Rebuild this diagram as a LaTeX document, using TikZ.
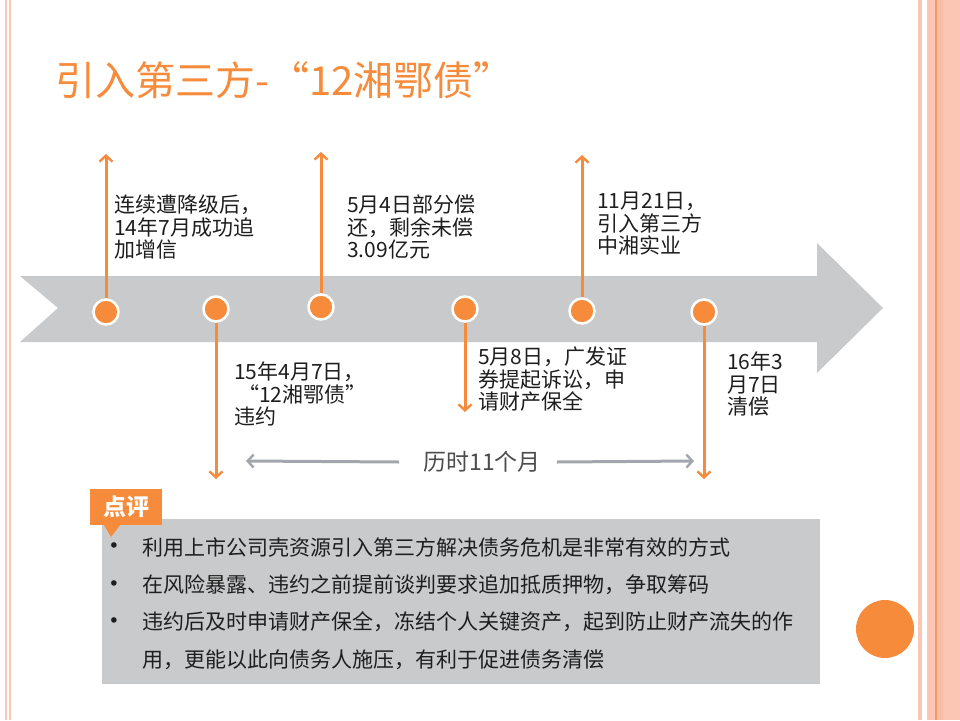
\documentclass[tikz,border=0pt]{standalone}
\usepackage{fontspec}
\setmainfont{Noto Sans CJK SC}
\newfontfamily\symfont{DejaVu Sans}
\usetikzlibrary{arrows.meta}
\definecolor{hlorange}{HTML}{F68B3C}
\definecolor{stripepink}{HTML}{FBC6B3}
\definecolor{stripeline}{HTML}{EE9A6A}
\definecolor{bandgray}{HTML}{C9CACC}
\definecolor{spangray}{HTML}{A3A7AD}
\definecolor{txtdark}{HTML}{1E1E1E}
\tikzset{
	dot/.style={circle,fill=hlorange,draw=white,line width=2.5pt,minimum size=25pt,inner sep=0pt},
	tick/.style={hlorange,line width=3pt,-{Straight Barb[length=6pt,width=13pt,line width=2.4pt]}},
	span/.style={spangray,line width=3pt,-{Straight Barb[length=6pt,width=13pt,line width=2.4pt]}},
	note/.style={anchor=north west,inner sep=0pt,align=left,text=txtdark,
		font=\fontsize{21pt}{22.5pt}\selectfont},
	point/.style={anchor=west,inner sep=0pt,text=txtdark,font=\fontsize{21pt}{24pt}\selectfont},
}
\begin{document}
\begin{tikzpicture}[x=1pt,y=-1pt]
				\useasboundingbox (0,0) rectangle (960,720);
				\fill[white] (0,0) rectangle (960,720);
				% page border stripes
				\fill[stripepink] (4.5,0) rectangle (6.5,720);
				\fill[stripepink] (8.5,0) rectangle (10.5,720);
				\fill[stripepink] (918,0) rectangle (922,720);
				\fill[stripepink] (927,0) rectangle (960,720);
				\fill[stripepink!80!stripeline] (937,0) rectangle (943,720);
				\draw[stripeline,line width=1.2pt] (936,0) to (936,720);
				% title
				\node[anchor=west,inner sep=0pt,text=hlorange,font=\fontsize{40pt}{44pt}\selectfont] (title) at (55,80) {引入第三方-“12湘鄂债”};
				% timeline band
				\fill[bandgray] (20,276) to (817,276) to (817,243) to (883,308) to (817,373) to (817,342) to (20,342) to (58,308) to cycle;
				\node[dot] (d1) at (106,312) {};
				\node[dot] (d2) at (216,309) {};
				\node[dot] (d3) at (321,307) {};
				\node[dot] (d4) at (465,309) {};
				\node[dot] (d5) at (582,311) {};
				\node[dot] (d6) at (704,312) {};
				\coordinate (e1) at (106,154);
				\coordinate (e2) at (216,479);
				\coordinate (e3) at (321,152);
				\coordinate (e4) at (465,412);
				\coordinate (e5) at (582,155);
				\coordinate (e6) at (704,479);
				\foreach \i in {1,...,6}
					\draw[tick] (d\i) to (e\i);
				% event texts
				\node[note] (n1) at (114,195) {连续遭降级后，\\14年7月成功追\\加增信};
				\node[note] (n3) at (347,195) {5月4日部分偿\\还，剩余未偿\\3.09亿元};
				\node[note] (n5) at (597,192) {11月21日，\\引入第三方\\中湘实业};
				\node[note] (n2) at (234,362) {15年4月7日，\\\hspace{4pt}“12湘鄂债”\\违约};
				\node[note] (n4) at (478,347) {5月8日，广发证\\券提起诉讼，申\\请财产保全};
				\node[note] (n6) at (727,352) {16年3\\月7日\\清偿};
				% duration
				\node[text=black!70,inner sep=0pt,font=\fontsize{23pt}{26pt}\selectfont] (dur) at (482,462) {历时11个月};
				\coordinate (sl) at (246,461);
				\coordinate (sr) at (694,461);
				\draw[span] ([xshift=-24pt]dur.west) to (sl);
				\draw[span] ([xshift=16pt]dur.east) to (sr);
				% review box
				\fill[bandgray] (102,519) rectangle (820,684);
				\fill[hlorange] (90,489) rectangle (162,525);
				\fill[hlorange] (104,525) to (120,525) to (111,537) to cycle;
				\node[text=white,inner sep=0pt,font=\fontsize{23pt}{26pt}\bfseries] (tag) at (126,507) {点评};
				\foreach \y in {548,586,623}
					\node[text=txtdark,inner sep=0pt,font=\symfont\fontsize{19pt}{20pt}\selectfont] at (114,\y) {•};
				\node[point] (b1) at (142,547) {利用上市公司壳资源引入第三方解决债务危机是非常有效的方式};
				\node[point] (b2) at (142,585) {在风险暴露、违约之前提前谈判要求追加抵质押物，争取筹码};
				\node[point] (b3) at (142,622) {违约后及时申请财产保全，冻结个人关键资产，起到防止财产流失的作};
				\node[point] (b4) at (142,660) {用，更能以此向债务人施压，有利于促进债务清偿};
				% corner dot
				\fill[hlorange] (885,629) circle (29);
			\end{tikzpicture}
\end{document}
